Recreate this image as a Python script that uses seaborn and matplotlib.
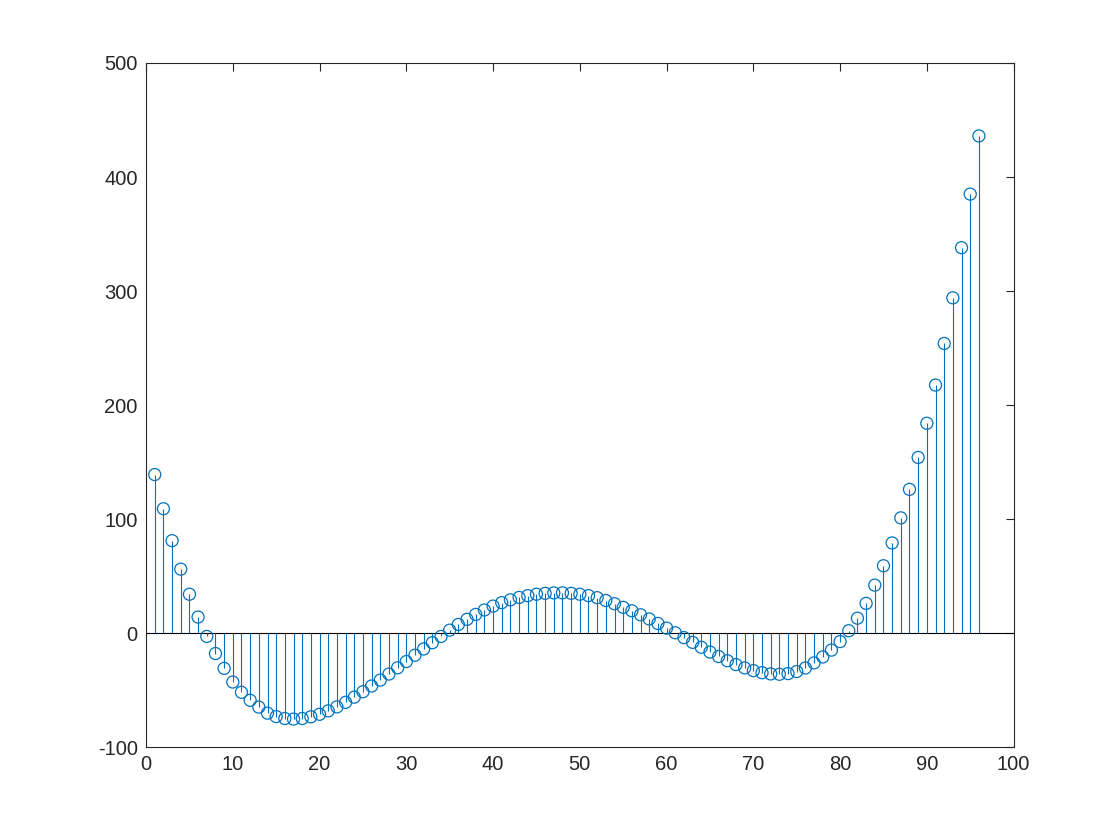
import numpy as np
import pandas as pd
import matplotlib
matplotlib.use("Agg")
import matplotlib.pyplot as plt
import seaborn as sns

# sample index and value
n_values = list(range(1, 97))
y_values = [
    139, 109, 81, 56, 34, 14, -3, -18, -31, -43,
    -52, -59, -65, -70.3, -73.3, -75, -75.5, -75, -73.5, -71.3,
    -68.3, -64.8, -60.8, -56.3, -51.5, -46.5, -41.3, -36, -30.5, -25,
    -19.5, -14, -8.5, -3, 2.5, 7.5, 12, 16.3, 20.2, 23.6,
    26.6, 29.1, 31.2, 32.8, 34, 34.8, 35.2, 35.2, 34.8, 34,
    32.8, 31, 28.5, 25.7, 22.5, 19.5, 16, 12.3, 8.4, 4.3,
    0.2, -4, -8.2, -12.5, -16.7, -20.6, -24.3, -27.7, -30.6, -33,
    -34.8, -35.9, -36.2, -35.6, -33.8, -30.7, -26.2, -21, -15, -7.5,
    2, 13, 26, 42, 59, 79, 101, 126, 154, 184,
    217.5, 254, 294, 338, 385, 436,
]
x_ticks = list(range(0, 101, 10))
y_ticks = list(range(-100, 501, 100))

df = pd.DataFrame({"n": n_values, "y": y_values})

sns.set_theme(style="white")
plt.rcParams['font.family'] = ['Liberation Sans', 'DejaVu Sans']
plt.rcParams['axes.unicode_minus'] = False

stem_color = '#0072BD'
axis_color = '#262626'

fig = plt.figure(figsize=(11.2, 8.4), dpi=100)
ax = fig.add_axes([0.1304, 0.1107, 0.905 - 0.1304, 0.925 - 0.1107])

# stems, baseline, then open circle markers
ax.vlines(df["n"], 0, df["y"], color=stem_color, linewidth=0.8, zorder=2)
ax.axhline(0, color='black', linewidth=0.8, zorder=1)
sns.scatterplot(data=df, x="n", y="y", ax=ax, marker='o', s=75,
                facecolors='none', edgecolor=stem_color, linewidth=0.9, zorder=3)

ax.set_xlim(0, 100)
ax.set_ylim(-100, 500)
ax.set_xticks(x_ticks)
ax.set_yticks(y_ticks)
ax.set_xlabel('')
ax.set_ylabel('')

for side in ax.spines.values():
    side.set_color(axis_color)
    side.set_linewidth(0.8)
ax.tick_params(direction='in', length=6, width=0.8, colors=axis_color,
               labelsize=14.5, top=True, right=True, pad=6)
ax.tick_params(axis='both', labelcolor=axis_color)

fig.savefig('out.png', dpi=100, facecolor='white')
